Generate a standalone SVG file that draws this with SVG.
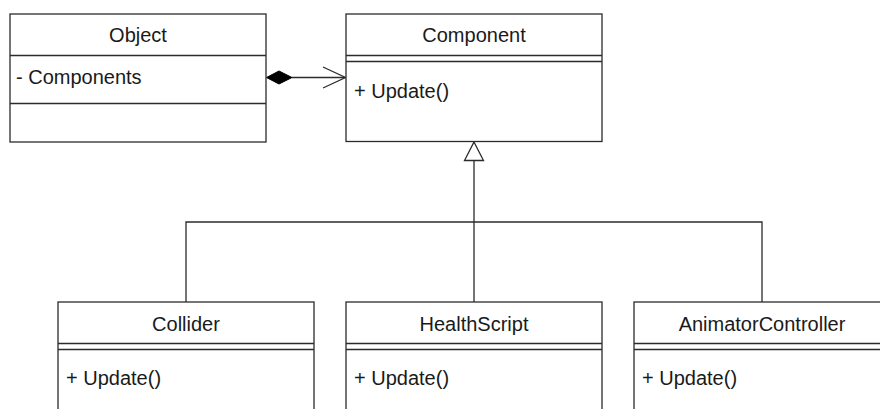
<svg xmlns="http://www.w3.org/2000/svg" width="880" height="409" viewBox="0 0 880 409">
<style>
.box{fill:#fff;stroke:#2b2b2b;stroke-width:1.3}
.ln{fill:none;stroke:#2b2b2b;stroke-width:1.3}
.t{font-family:"Liberation Sans",Arial,sans-serif;font-size:20px;fill:#1a1a1a}
.c{text-anchor:middle}
</style>
<rect width="880" height="409" fill="#fff"/>
<g id="connectors">
  <line class="ln" x1="292" y1="77.5" x2="345" y2="77.5"/>
  <polygon points="266.5,77.5 279,71 292,77.5 279,84" fill="#000" stroke="#000" stroke-width="1"/>
  <polyline class="ln" points="323,67 345.5,77.5 323,88"/>
  <polyline class="ln" points="186,302 186,222 762,222 762,302"/>
  <line class="ln" x1="474" y1="161" x2="474" y2="302"/>
  <polygon class="box" points="474,142 483.5,160.5 464.5,160.5"/>
</g>
<g id="object">
  <rect class="box" x="10" y="14" width="256" height="128"/>
  <line class="ln" x1="10" y1="55.5" x2="266" y2="55.5"/>
  <line class="ln" x1="10" y1="103.5" x2="266" y2="103.5"/>
  <text class="t c" x="138" y="42">Object</text>
  <text class="t" x="16" y="83.5">- Components</text>
</g>
<g id="component">
  <rect class="box" x="346" y="14" width="256" height="127.5"/>
  <line class="ln" x1="346" y1="55.5" x2="602" y2="55.5"/>
  <line class="ln" x1="346" y1="61.5" x2="602" y2="61.5"/>
  <text class="t c" x="474" y="42">Component</text>
  <text class="t" x="354" y="97.5">+ Update()</text>
</g>
<g id="collider">
  <rect class="box" x="58" y="302" width="256" height="130"/>
  <line class="ln" x1="58" y1="343.5" x2="314" y2="343.5"/>
  <line class="ln" x1="58" y1="349.5" x2="314" y2="349.5"/>
  <text class="t c" x="186" y="330.5">Collider</text>
  <text class="t" x="66" y="385">+ Update()</text>
</g>
<g id="healthscript">
  <rect class="box" x="346" y="302" width="256" height="130"/>
  <line class="ln" x1="346" y1="343.5" x2="602" y2="343.5"/>
  <line class="ln" x1="346" y1="349.5" x2="602" y2="349.5"/>
  <text class="t c" x="474" y="330.5">HealthScript</text>
  <text class="t" x="354" y="385">+ Update()</text>
</g>
<g id="animatorcontroller">
  <rect class="box" x="634" y="302" width="256" height="130"/>
  <line class="ln" x1="634" y1="343.5" x2="890" y2="343.5"/>
  <line class="ln" x1="634" y1="349.5" x2="890" y2="349.5"/>
  <text class="t c" x="762" y="330.5">AnimatorController</text>
  <text class="t" x="642" y="385">+ Update()</text>
</g>
</svg>
